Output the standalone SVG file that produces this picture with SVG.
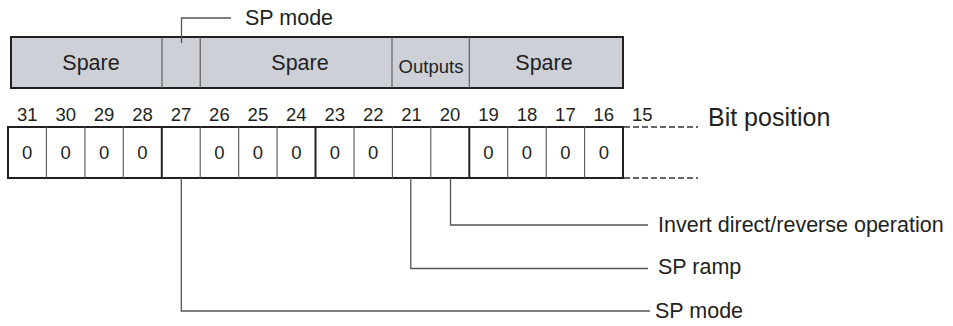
<svg xmlns="http://www.w3.org/2000/svg" width="953" height="326" viewBox="0 0 953 326">
<style>
text{font-family:"Liberation Sans",Arial,sans-serif;fill:#231f20}
.lbl{font-size:21.5px}
.num{font-size:18.5px;text-anchor:middle}
.zero{font-size:18.5px;text-anchor:middle}
.hdr{font-size:21.5px;text-anchor:middle}
.thin{stroke:#555;stroke-width:1.1;fill:none}
.thick{stroke:#231f20;stroke-width:2;fill:none}
.lead{stroke:#555;stroke-width:1.3;fill:none}
.dash{stroke:#333;stroke-width:1.5;stroke-dasharray:6 3;fill:none}
</style>
<g id="field-bar">
<rect x="11" y="37" width="612" height="51" style="fill:#cdd0d7;stroke:#231f20;stroke-width:2"/>
<line class="thin" x1="162" y1="37" x2="162" y2="88"/>
<line class="thin" x1="200.2" y1="37" x2="200.2" y2="88"/>
<line class="thin" x1="392" y1="37" x2="392" y2="88"/>
<line class="thin" x1="469.3" y1="37" x2="469.3" y2="88"/>
<text class="hdr" x="91" y="70">Spare</text>
<text class="hdr" x="300" y="70">Spare</text>
<text x="431" y="73" style="font-size:18.5px;text-anchor:middle">Outputs</text>
<text class="hdr" x="544" y="70">Spare</text>
</g>
<g id="label-top-sp-mode">
<text class="lbl" x="245" y="25">SP mode</text>
</g>
<g id="bit-numbers">
<text class="num" x="27.2" y="121">31</text>
<text class="num" x="65.7" y="121">30</text>
<text class="num" x="104.1" y="121">29</text>
<text class="num" x="142.5" y="121">28</text>
<text class="num" x="181" y="121">27</text>
<text class="num" x="219.4" y="121">26</text>
<text class="num" x="257.9" y="121">25</text>
<text class="num" x="296.3" y="121">24</text>
<text class="num" x="334.8" y="121">23</text>
<text class="num" x="373.2" y="121">22</text>
<text class="num" x="411.6" y="121">21</text>
<text class="num" x="450.1" y="121">20</text>
<text class="num" x="488.5" y="121">19</text>
<text class="num" x="527" y="121">18</text>
<text class="num" x="565.4" y="121">17</text>
<text class="num" x="603.8" y="121">16</text>
<text class="num" x="642.3" y="121">15</text>
</g>
<g id="bit-cells">
<rect x="8" y="127" width="615" height="51" style="fill:#fff;stroke:#231f20;stroke-width:2"/>
<line class="thin" x1="46.4" y1="127" x2="46.4" y2="178"/>
<line class="thin" x1="84.9" y1="127" x2="84.9" y2="178"/>
<line class="thin" x1="123.3" y1="127" x2="123.3" y2="178"/>
<line class="thick" x1="161.8" y1="127" x2="161.8" y2="178"/>
<line class="thin" x1="200.2" y1="127" x2="200.2" y2="178"/>
<line class="thin" x1="238.7" y1="127" x2="238.7" y2="178"/>
<line class="thin" x1="277.1" y1="127" x2="277.1" y2="178"/>
<line class="thick" x1="315.5" y1="127" x2="315.5" y2="178"/>
<line class="thin" x1="354" y1="127" x2="354" y2="178"/>
<line class="thin" x1="392.4" y1="127" x2="392.4" y2="178"/>
<line class="thin" x1="430.8" y1="127" x2="430.8" y2="178"/>
<line class="thick" x1="469.3" y1="127" x2="469.3" y2="178"/>
<line class="thin" x1="507.7" y1="127" x2="507.7" y2="178"/>
<line class="thin" x1="546.2" y1="127" x2="546.2" y2="178"/>
<line class="thin" x1="584.6" y1="127" x2="584.6" y2="178"/>
<line class="dash" x1="624" y1="127" x2="698" y2="127"/>
<line class="dash" x1="624" y1="178" x2="698" y2="178"/>
<text class="zero" x="27.2" y="159">0</text>
<text class="zero" x="65.7" y="159">0</text>
<text class="zero" x="104.1" y="159">0</text>
<text class="zero" x="142.5" y="159">0</text>
<text class="zero" x="219.4" y="159">0</text>
<text class="zero" x="257.9" y="159">0</text>
<text class="zero" x="296.3" y="159">0</text>
<text class="zero" x="334.8" y="159">0</text>
<text class="zero" x="373.2" y="159">0</text>
<text class="zero" x="488.5" y="159">0</text>
<text class="zero" x="527" y="159">0</text>
<text class="zero" x="565.4" y="159">0</text>
<text class="zero" x="603.8" y="159">0</text>
</g>
<g id="label-bit-position">
<text x="708" y="126" style="font-size:25px">Bit position</text>
</g>
<g id="label-invert">
<text class="lbl" x="658" y="232">Invert direct/reverse operation</text>
</g>
<g id="label-sp-ramp">
<text class="lbl" x="658" y="274">SP ramp</text>
</g>
<g id="label-sp-mode">
<text class="lbl" x="655" y="318">SP mode</text>
</g>
<g id="connectors">
<polyline class="lead" points="181.5,43 181.5,18 231,18"/>
<polyline class="lead" points="450.5,178 450.5,225 648,225"/>
<polyline class="lead" points="410.8,178 410.8,268.5 648,268.5"/>
<polyline class="lead" points="181.3,178 181.3,311 650,311"/>
</g>
</svg>
